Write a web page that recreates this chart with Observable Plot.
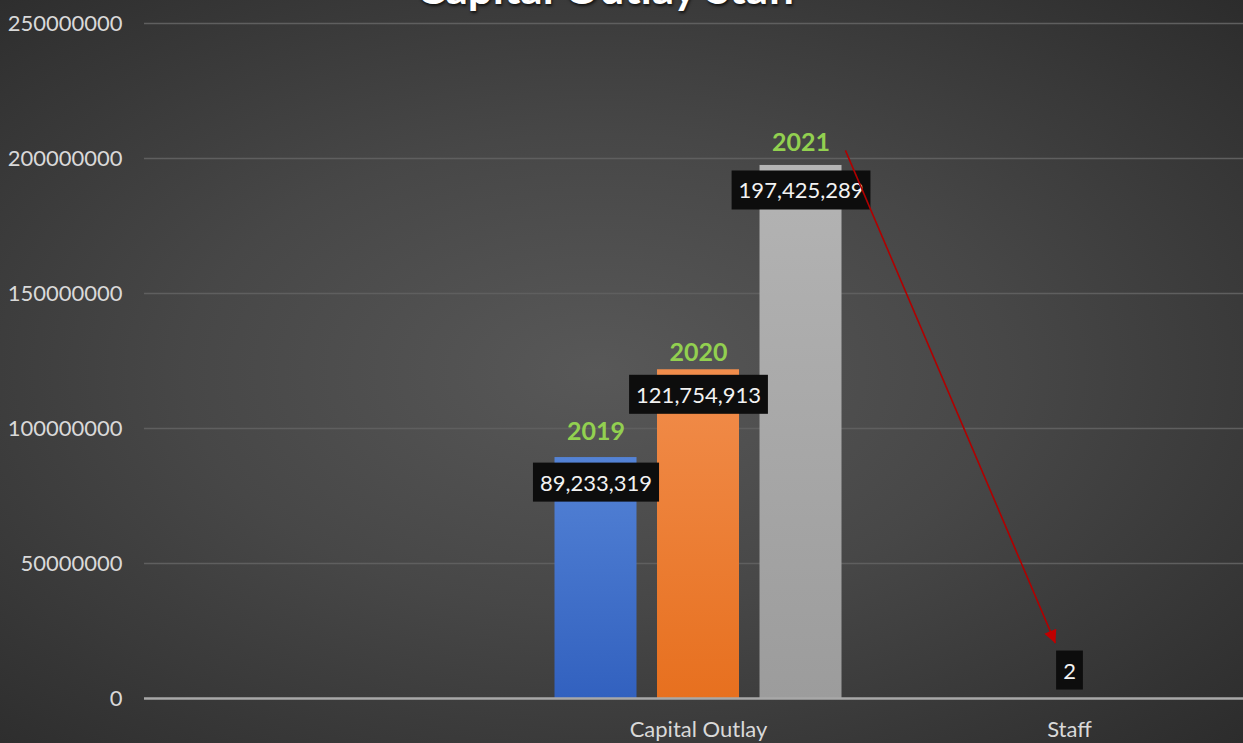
<!DOCTYPE html>
<html>
<head>
<meta charset="utf-8">
<script src="https://cdn.jsdelivr.net/npm/d3@7"></script>
<script src="https://cdn.jsdelivr.net/npm/@observablehq/plot@0.6"></script>
<style>
  html, body { margin: 0; padding: 0; }
  body {
    width: 1243px; height: 743px; overflow: hidden; position: relative;
    background: radial-gradient(ellipse farthest-corner at 48% 50%, #585858 0%, #474747 45%, #2c2c2c 100%);
    font-family: Lato, "Open Sans", sans-serif;
  }
  #title {
    position: absolute; left: 0; top: -35px; width: 1214px; text-align: center;
    font: bold 44px/44px Lato, sans-serif; color: #ffffff;
    text-shadow: 1px 2px 3px rgba(0,0,0,0.7);
    white-space: nowrap;
  }
  #chart { position: absolute; left: 0; top: 0; }
</style>
</head>
<body>
<div id="title">Capital Outlay Staff</div>
<div id="chart"></div>
<script>
// ---- data ----
const categories = ["", "Capital Outlay", "Staff"];
const years = ["2019", "2020", "2021"];
const capitalOutlay = [89233319, 121754913, 197425289];
const staff = [null, 2, null];
const yTicks = [0, 50000000, 100000000, 150000000, 200000000, 250000000];

// annotation arrow (data units: category index, value)
const arrowAnnotation = [{x1: 1.396, y1: 203000000, x2: 1.962, y2: 20500000}];

// ---- styles ----
const yearGradients = {
  "2019": ["#5483d6", "#3261bf"],
  "2020": ["#f18d4c", "#e7701f"],
  "2021": ["#b4b4b4", "#9c9c9c"]
};
const yearLabelDy = {"2019": -26, "2020": -17, "2021": -22};
const groupStep = 0.2763;   // spacing between year bars within a category (category units)
const halfBar = 0.1105;     // half of bar width (category units)
const arrowColor = "#b00000";

const rows = [];
categories.forEach((c, ci) => {
  years.forEach((yr, yi) => {
    const v = c === "Capital Outlay" ? capitalOutlay[yi] : c === "Staff" ? staff[yi] : null;
    if (v != null) rows.push({category: c, ci, year: yr, yi, value: v});
  });
});
const xc = d => d.ci + (d.yi - 1) * groupStep;
const capRows = rows.filter(d => d.category === "Capital Outlay");
const staffRows = rows.filter(d => d.category === "Staff");
const fmt = d3.format(",");
const valueLabelTexts = new Set(rows.map(d => fmt(d.value)));

const marks = [
  Plot.ruleY(yTicks.filter(t => t > 0), {stroke: "#5f5f5f", strokeWidth: 1.3})
];
years.forEach(yr => {
  marks.push(Plot.rectY(rows.filter(d => d.year === yr), {
    x1: d => xc(d) - halfBar, x2: d => xc(d) + halfBar, y1: 0, y2: "value",
    fill: `url(#grad${yr})`
  }));
});
marks.push(Plot.ruleY([0], {stroke: "#a8a8a8", strokeWidth: 2.5}));
years.forEach(yr => {
  marks.push(Plot.text(capRows.filter(d => d.year === yr), {
    x: xc, y: "value", text: "year", dy: yearLabelDy[yr],
    fill: "#92d050", fontWeight: "bold", fontSize: 25
  }));
});
marks.push(Plot.text(capRows, {
  x: xc, y: "value", text: d => fmt(d.value), dy: 26,
  fill: "#f2f2f2", fontSize: 22
}));
marks.push(Plot.text(staffRows, {
  x: xc, y: "value", text: d => fmt(d.value), dy: -27,
  fill: "#f2f2f2", fontSize: 22
}));
marks.push(Plot.link(arrowAnnotation, {
  x1: "x1", y1: "y1", x2: "x2", y2: "y2",
  stroke: arrowColor, strokeWidth: 1.6
}));
marks.push(Plot.axisY({
  ticks: yTicks, tickFormat: d3.format("d"), tickSize: 0, tickPadding: 22,
  fontSize: 22, label: null
}));
marks.push(Plot.axisX({
  ticks: [0, 1, 2], tickFormat: i => categories[i], tickSize: 0, tickPadding: 23,
  fontSize: 22, label: null
}));

const chart = Plot.plot({
  width: 1243,
  height: 743,
  marginLeft: 144,
  marginRight: 0,
  marginTop: 23,
  marginBottom: 45,
  x: {type: "linear", domain: [-0.4933, 2.469]},
  y: {domain: [0, 250000000]},
  style: {background: "transparent", color: "#d9d9d9", fontFamily: "Lato, sans-serif", fontSize: "22px", overflow: "visible"},
  marks
});
document.getElementById("chart").append(chart);

// gradients, label boxes and arrowhead
const svg = d3.select(chart);
const defs = svg.insert("defs", ":first-child");
for (const yr of years) {
  const g = defs.append("linearGradient").attr("id", `grad${yr}`)
    .attr("x1", 0).attr("y1", 0).attr("x2", 0).attr("y2", 1);
  g.append("stop").attr("offset", "0%").attr("stop-color", yearGradients[yr][0]);
  g.append("stop").attr("offset", "100%").attr("stop-color", yearGradients[yr][1]);
}
defs.append("marker").attr("id", "arrowhead")
  .attr("viewBox", "0 -5 10 10").attr("refX", 10).attr("refY", 0)
  .attr("markerUnits", "userSpaceOnUse").attr("markerWidth", 15).attr("markerHeight", 13)
  .attr("orient", "auto")
  .append("path").attr("d", "M0,-5L10,0L0,5Z").attr("fill", "#c00000");

svg.selectAll("g").filter(function() { return this.getAttribute("stroke") === arrowColor; })
  .selectAll("path, line").attr("marker-end", "url(#arrowhead)");

svg.selectAll("text").filter(function() {
  return valueLabelTexts.has(this.textContent) && !this.closest('g[aria-label^="y-axis"]') && !this.closest('g[aria-label^="x-axis"]');
}).each(function() {
  const b = this.getBBox();
  const padX = 7, padY = 6;
  d3.select(this.parentNode).insert("rect", () => this)
    .attr("transform", this.getAttribute("transform"))
    .attr("x", b.x - padX).attr("y", b.y - padY)
    .attr("width", b.width + 2 * padX).attr("height", b.height + 2 * padY)
    .attr("fill", "#0d0d0d");
});
</script>
</body>
</html>
